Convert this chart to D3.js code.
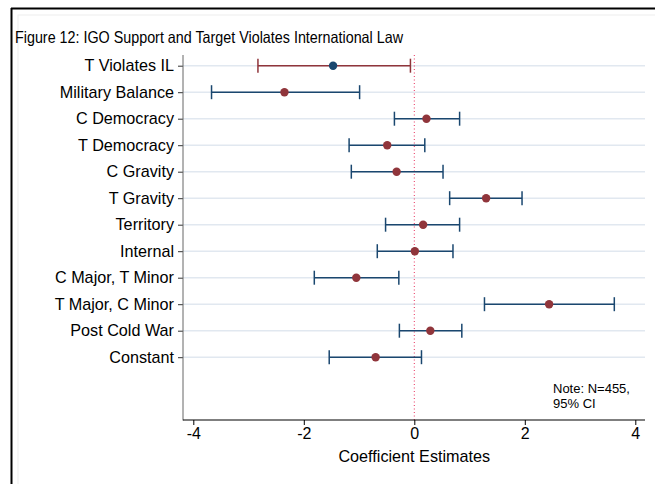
<!DOCTYPE html>
<html><head><meta charset="utf-8">
<script src="https://cdn.jsdelivr.net/npm/d3@7"></script>
<style>body{margin:0;background:#fff;}svg{display:block;font-family:Arial,"Liberation Sans",sans-serif;}</style>
</head><body>
<svg id="c" width="655" height="484"></svg>
<script>
const categories = ["T Violates IL","Military Balance","C Democracy","T Democracy","C Gravity","T Gravity","Territory","Internal","C Major, T Minor","T Major, C Minor","Post Cold War","Constant"];
const estimates = [-1.47,-2.35,0.22,-0.49,-0.32,1.30,0.16,0.01,-1.05,2.44,0.29,-0.70];
const lower = [-2.83,-3.67,-0.36,-1.18,-1.14,0.64,-0.52,-0.67,-1.81,1.27,-0.27,-1.54];
const upper = [-0.07,-0.99,0.82,0.19,0.52,1.95,0.82,0.70,-0.28,3.62,0.86,0.13];
const xTicks = [-4,-2,0,2,4];
const title = "Figure 12: IGO Support and Target Violates International Law";
const xTitle = "Coefficient Estimates";
const note = ["Note: N=455,","95% CI"];

const blue = "#1a476f", red = "#90353b";
const svg = d3.select("#c");
const L = 183, R = 645, T = 55, B = 420;
const x = d3.scaleLinear().domain([-4,4]).range([193.3,635.3]);
const y = d3.scaleLinear().domain([0,11]).range([65.7,357.2]);
const FF = "Arial, 'Liberation Sans', sans-serif";

// frame
svg.append("rect").attr("x",18).attr("y",15).attr("width",640).attr("height",480).attr("fill","none").attr("stroke","#eeeeee");
svg.append("line").attr("x1",11.5).attr("x2",11.5).attr("y1",8).attr("y2",484).attr("stroke","#000").attr("stroke-width",2);
svg.append("line").attr("x1",11).attr("x2",655).attr("y1",8.5).attr("y2",8.5).attr("stroke","#000").attr("stroke-width",2);

svg.append("text").attr("x",15).attr("y",43).attr("font-size",16.5)
  .attr("textLength",388).attr("lengthAdjust","spacingAndGlyphs").attr("fill","#000").text(title);

// gridlines
svg.append("g").selectAll("line").data(categories).join("line")
  .attr("x1",L).attr("x2",R).attr("y1",(d,i)=>y(i)).attr("y2",(d,i)=>y(i))
  .attr("stroke","#e1e8f0").attr("stroke-width",1.5);

// zero line
svg.append("line").attr("x1",x(0)).attr("x2",x(0)).attr("y1",T).attr("y2",B)
  .attr("stroke","#e8305a").attr("stroke-width",1).attr("stroke-dasharray","1,2.5");

// axes
const yAxis = d3.axisLeft(y).tickValues(d3.range(categories.length)).tickFormat(i=>categories[i]).tickSize(5).tickPadding(4);
const gy = svg.append("g").attr("transform",`translate(${L},0)`).call(yAxis);
gy.select(".domain").remove();
gy.selectAll(".tick line").attr("stroke","#333");
gy.selectAll("text").attr("font-size",16.2).attr("fill","#000").attr("font-family",FF);
svg.append("line").attr("x1",L).attr("x2",L).attr("y1",T).attr("y2",B+0.5).attr("stroke","#666").attr("stroke-width",1);

const xAxis = d3.axisBottom(x).tickValues(xTicks).tickFormat(d=>d<0?"-"+Math.abs(d):String(d)).tickSize(5).tickPadding(3);
const gx = svg.append("g").attr("transform",`translate(0,${B})`).call(xAxis);
gx.select(".domain").remove();
gx.selectAll(".tick line").attr("stroke","#000");
gx.selectAll("text").attr("font-size",16).attr("fill","#000").attr("font-family",FF);
svg.append("line").attr("x1",L).attr("x2",R).attr("y1",B).attr("y2",B).attr("stroke","#000").attr("stroke-width",1.2);

svg.append("text").attr("x",x(0)).attr("y",462).attr("text-anchor","middle").attr("font-size",16.2).text(xTitle);

// CIs
const ci = svg.append("g");
categories.forEach((c,i)=>{
  const col = i===0 ? red : blue;
  const yy = y(i);
  ci.append("line").attr("x1",x(lower[i])).attr("x2",x(upper[i])).attr("y1",yy).attr("y2",yy).attr("stroke",col).attr("stroke-width",1.5);
  [lower[i],upper[i]].forEach(v=>{
    ci.append("line").attr("x1",x(v)).attr("x2",x(v)).attr("y1",yy-7).attr("y2",yy+7).attr("stroke",col).attr("stroke-width",1.5);
  });
  ci.append("circle").attr("cx",x(estimates[i])).attr("cy",yy).attr("r",4.2).attr("fill",i===0?blue:red);
});

// note
svg.append("text").attr("x",553).attr("y",393).attr("font-size",13).selectAll("tspan").data(note).join("tspan")
  .attr("x",553).attr("dy",(d,i)=>i?15:0).text(d=>d);
</script>
</body></html>
